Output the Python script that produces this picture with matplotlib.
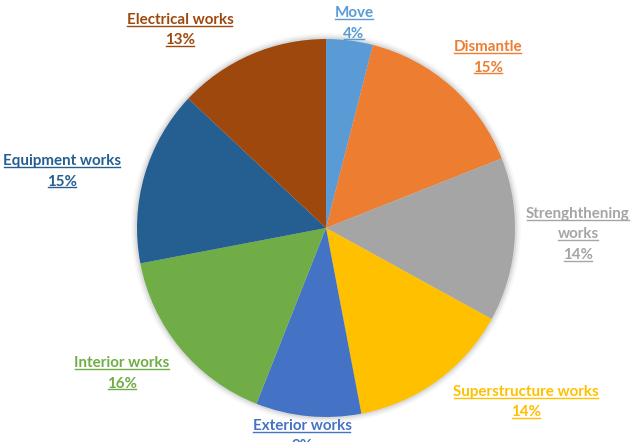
import matplotlib
matplotlib.use("Agg")
import matplotlib.pyplot as plt
from matplotlib.lines import Line2D
from matplotlib.patches import Circle

# slices, clockwise from 12 o'clock
labels = ["Move", "Dismantle", "Strenghthening\nworks", "Superstructure works",
          "Exterior works", "Interior works", "Equipment works", "Electrical works"]
shares = [4, 15, 14, 14, 9, 16, 15, 13]
colors = ["#5B9BD5", "#ED7D31", "#A5A5A5", "#FFC000",
          "#4472C4", "#70AD47", "#255E91", "#9E480E"]

# label anchor (centre of first line) in pixels from top-left
label_px = [(354, 13), (488, 47), (578, 214), (526, 392),
            (302, 426), (122, 363), (62, 161), (180, 20)]
LINE_H = 20.5

W, H = 640, 442
fig = plt.figure(figsize=(W / 100, H / 100), dpi=100)
cx, cy, R = 326, 228, 189
ax = fig.add_axes([(cx - R * 1.05) / W, (H - cy - R * 1.05) / H, 2.1 * R / W, 2.1 * R / H])

# soft shadow around the pie
for r, a in [(1.03, 0.08), (1.02, 0.12), (1.01, 0.2)]:
    ax.add_patch(Circle((0, 0), r, color="#999999", alpha=a, lw=0, zorder=0))
ax.pie(shares, colors=colors, startangle=90, counterclock=False, radius=1,
       wedgeprops=dict(linewidth=0, zorder=2))
ax.set_xlim(-1.05, 1.05)
ax.set_ylim(-1.05, 1.05)
ax.axis("off")

texts = []
for lab, val, col, (px, py) in zip(labels, shares, colors, label_px):
    lines = lab.split("\n") + [f"{val}%"]
    for i, ln in enumerate(lines):
        y = py + i * LINE_H
        t = fig.text(px / W, 1 - y / H, ln, ha="center", va="center", color=col,
                     fontsize=10.9, fontweight="bold", family=["Lato", "DejaVu Sans"])
        texts.append((t, col))

# underline every text line
fig.canvas.draw()
r = fig.canvas.get_renderer()
for t, col in texts:
    bb = t.get_window_extent(renderer=r)
    y = bb.y0 + 1.5
    fig.add_artist(Line2D([(bb.x0 + 0.5) / W, (bb.x1 - 1) / W], [y / H, y / H], color=col,
                          lw=1.0, transform=fig.transFigure))

fig.savefig("out.png", dpi=100)
